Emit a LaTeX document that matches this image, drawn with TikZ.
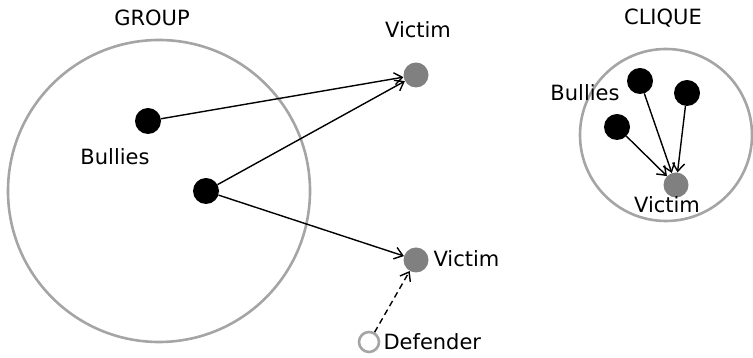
\documentclass[tikz,border=0pt]{standalone}
\usepackage{fontspec}
\setmainfont{DejaVu Sans}
\usetikzlibrary{arrows.meta}
\definecolor{ringgray}{RGB}{165,165,165}
\definecolor{vicgray}{RGB}{128,128,128}

\begin{document}
\begin{tikzpicture}[x=1pt,y=1pt,font=\fontsize{21}{25}\selectfont,
  bully/.style={circle,fill=black,minimum size=26pt,inner sep=0pt},
  victim/.style={circle,fill=vicgray,minimum size=25pt,inner sep=0pt},
  ring/.style={draw=ringgray,line width=2.6pt},
  hit/.style={-{Straight Barb[length=8pt,width=12pt]},line width=1.4pt}]
  \useasboundingbox (0,0) rectangle (753,358);
  % group
  \draw[ring] (159,167) circle (151);
  \node (lgroup) at (152,340) {GROUP};
  \node[bully] (b1) at (148,237) {};
  \node[bully] (b2) at (206,167) {};
  \node (lbul) at (115,201) {Bullies};
  \node[victim] (v1) at (416,283) {};
  \node[victim] (v2) at (416,98) {};
  \node (lv1) at (418,328) {Victim};
  \node[anchor=west] (lv2) at (430,99) {Victim};
  \node[circle,draw=ringgray,line width=2.6pt,minimum size=20pt,inner sep=0pt] (d) at (369,16) {};
  \node[anchor=west] (ld) at (380,16) {Defender};
  \foreach \a/\b in {b1/v1,b2/v1,b2/v2}{\draw[hit] (\a)--(\b);}
  \draw[hit,dash pattern=on 6pt off 4pt] (d)--(v2);
  % clique
  \draw[ring] (666,223) circle (86);
  \node (lclique) at (663,340) {CLIQUE};
  \foreach \i/\x/\y in {1/640/277,2/687/265,3/617/231}{\node[bully] (c\i) at (\x,\y) {};}
  \node[victim] (cv) at (676,173) {};
  \node (lcb) at (585,265) {Bullies};
  \node (lcv) at (667,153) {Victim};
  \foreach \i in {1,2,3}{\draw[hit] (c\i)--(cv);}
\end{tikzpicture}
\end{document}
